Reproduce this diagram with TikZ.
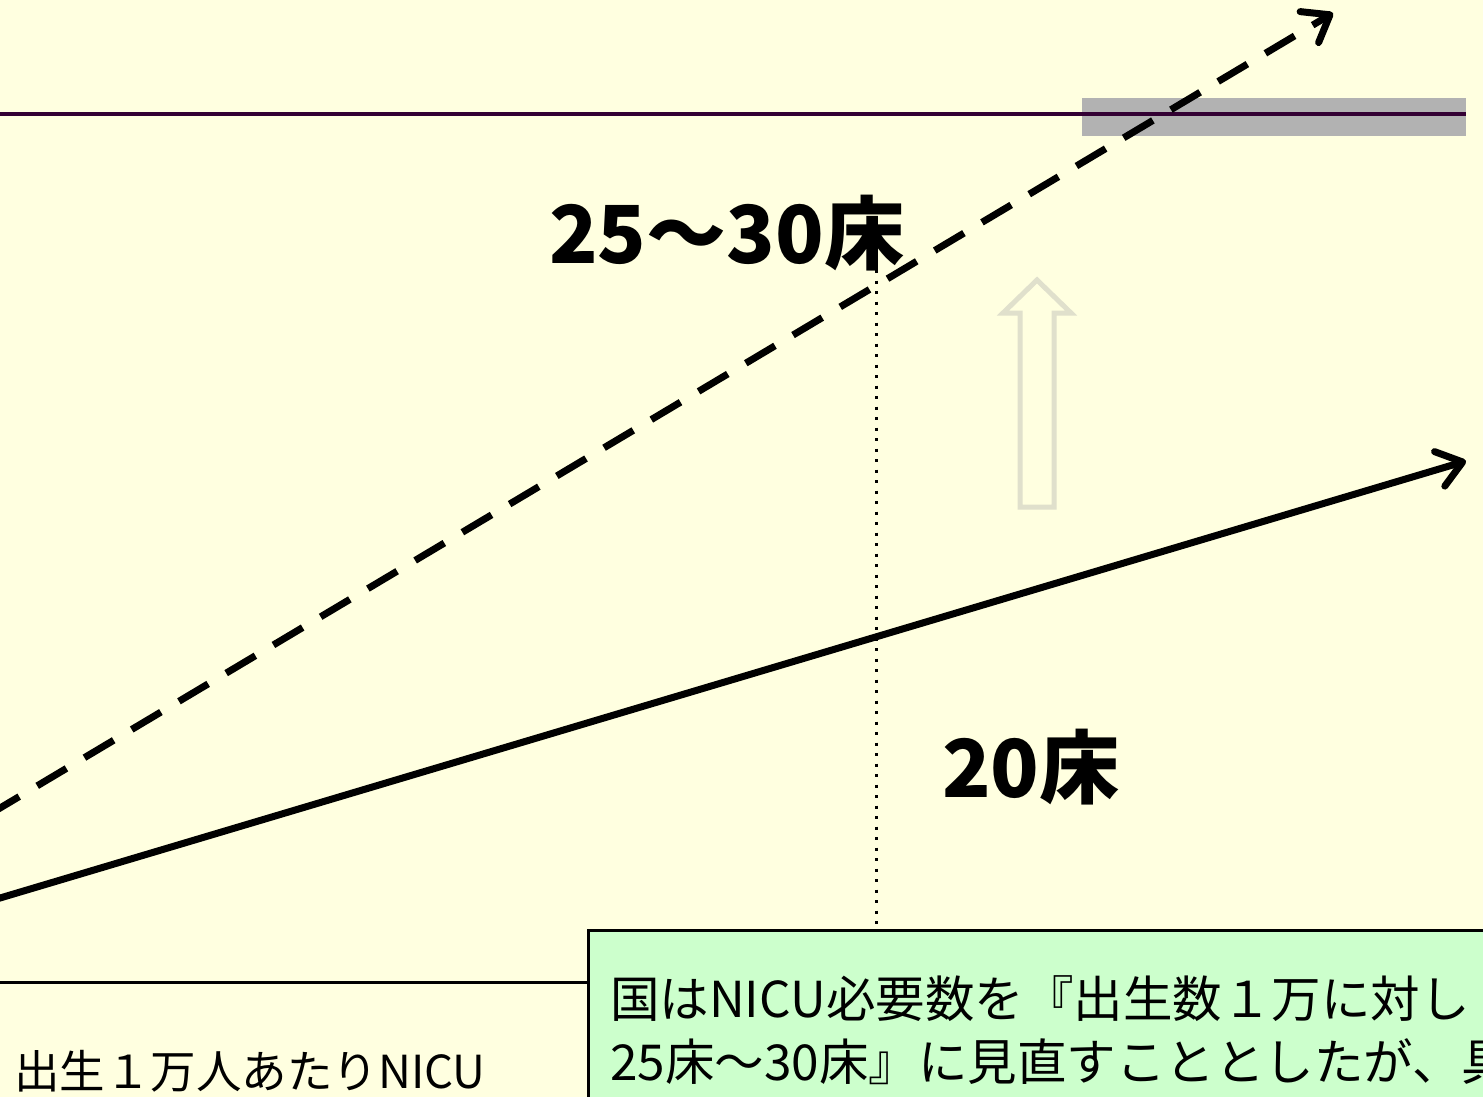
\documentclass[tikz,border=0pt]{standalone}
\usepackage{fontspec}
\newfontfamily\jp{Noto Sans CJK JP}
\usetikzlibrary{arrows.meta}
\definecolor{bgyellow}{RGB}{255,255,224}
\definecolor{darkpurple}{RGB}{51,0,51}
\definecolor{barGray}{RGB}{178,178,178}
\definecolor{ghost}{RGB}{224,224,204}
\definecolor{boxgreen}{RGB}{204,255,204}
\tikzset{
  trend/.style={line width=7pt,line cap=butt,-{Straight Barb[length=24pt,width=36pt,line width=7pt,round]}},
  biglabel/.style={font=\jp\bfseries\fontsize{80}{80}\selectfont,anchor=base west,inner sep=0pt},
  boxtext/.style={font=\jp\fontsize{49.5}{49.5}\selectfont,anchor=base west,inner sep=0pt},
}
\begin{document}
\begin{tikzpicture}[x=1pt,y=-1pt]
\useasboundingbox (0,0) rectangle (1483,1097);
\clip (0,0) rectangle (1483,1097);
\fill[bgyellow] (0,0) rectangle (1483,1097);
% gray bar and top line
\fill[barGray] (1082,98) rectangle (1466,136);
\coordinate (tl1) at (0,114);
\coordinate (tl2) at (1466,114);
\draw[darkpurple,line width=3.5pt] (tl1) -- (tl2);
% ghost up arrow
\draw[ghost,line width=5pt,line join=miter] (1037,280) -- (1071,313) -- (1054,313) -- (1054,507) -- (1020,507) -- (1020,313) -- (1003,313) -- cycle;
% dotted vertical
\coordinate (dv1) at (876,270);
\coordinate (dv2) at (876,929);
\draw[black,line width=3pt,dash pattern=on 3pt off 7.5pt] (dv1) -- (dv2);
% trend arrows
\coordinate (ds) at (-10,814);
\coordinate (de) at (1333,13);
\draw[trend,dash pattern=on 34pt off 21pt] (ds) -- (de);
\coordinate (ss) at (-10,901);
\coordinate (se) at (1466,461);
\draw[trend] (ss) -- (se);
% labels
\node[biglabel] (l2530) at (549,263) {25～30床};
\node[biglabel] (l20) at (942,797) {20床};
% bottom-left line and text
\coordinate (bl1) at (0,982);
\coordinate (bl2) at (587,982);
\draw[black,line width=3pt] (bl1) -- (bl2);
\node[font=\jp\fontsize{45.5}{45.5}\selectfont,anchor=base west,inner sep=0pt] (axis) at (14,1088) {出生１万人あたりNICU};
% green box
\node[draw=black,line width=2.5pt,fill=boxgreen,anchor=north west,minimum width=930pt,minimum height=200pt,inner sep=0pt] (gbox) at (587,929) {};
\node[boxtext] (t1) at (610,1017) {国はNICU必要数を『出生数１万に対し};
\node[boxtext] (t2) at (610,1080) {25床～30床』に見直すこととしたが、具};
\end{tikzpicture}
\end{document}
